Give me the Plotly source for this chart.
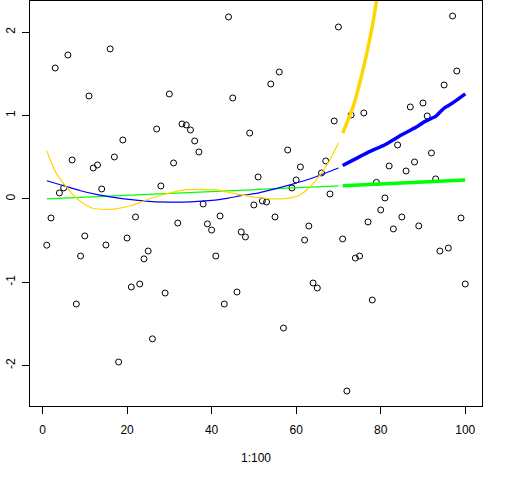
import plotly.graph_objects as go

# Scatter data: x = 1:100
idx = list(range(1, 101))
yvals = [
    -0.556, -0.229, 1.571, 0.071, 0.131, 1.727, 0.467, -1.262, -0.686, -0.445,
    1.235, 0.371, 0.407, 0.119, -0.554, 1.80, 0.503, -1.958, 0.707, -0.47,
    -1.058, -0.217, -1.022, -0.72, -0.626, -1.68, 0.839, 0.155, -1.13, 1.259,
    0.431, -0.29, 0.899, 0.887, 0.827, 0.695, 0.563, -0.061, -0.30, -0.374,
    -0.686, -0.205, -1.262, 2.184, 1.211, -1.118, -0.397, -0.457, 0.79, -0.073,
    0.263, -0.025, -0.037, 1.379, -0.217, 1.523, -1.55, 0.587, 0.131, 0.227,
    0.383, -0.494, -0.326, -1.01, -1.07, 0.311, 0.455, 0.059, 0.935, 2.063,
    -0.481, -2.306, 1.007, -0.71, -0.686, 1.031, -0.277, -1.214, 0.198, -0.133,
    0.011, 0.395, -0.361, 0.647, -0.217, 0.335, 1.103, 0.443, -0.325, 1.151,
    0.995, 0.551, 0.239, -0.626, 1.367, -0.59, 2.195, 1.535, -0.229, -1.022,
]

# Green (linear) fit: thin over 1..70, thick over 71..100
green_thin_x = [1, 70]
green_thin_y = [0.0, 0.155]
green_thick_x = [71, 100]
green_thick_y = [0.158, 0.228]

# Blue fit
blue_thin_x = [1, 5, 9, 13, 18, 21, 26, 30, 35, 40, 44, 47, 51, 55, 59, 63, 67, 70]
blue_thin_y = [0.218, 0.158, 0.098, 0.05, 0.008, -0.01, -0.033, -0.038, -0.035,
               -0.018, 0.01, 0.038, 0.07, 0.12, 0.175, 0.235, 0.31, 0.37]
blue_thick_x = [71, 77, 81, 85, 88, 90.5, 93, 95, 97, 100]
blue_thick_y = [0.40, 0.558, 0.65, 0.77, 0.85, 0.93, 0.99, 1.09, 1.15, 1.26]

# Gold fit
gold_thin_x = [1, 3, 6, 8, 10, 12, 15, 17, 21, 25, 29, 33, 37, 41, 46, 51, 55,
               59, 61, 63, 66, 68, 70]
gold_thin_y = [0.579, 0.33, 0.12, 0.01, -0.065, -0.115, -0.125, -0.122, -0.08,
               -0.005, 0.055, 0.105, 0.115, 0.108, 0.058, 0.015, 0.0, 0.015,
               0.05, 0.13, 0.31, 0.47, 0.67]
gold_thick_x = [71, 73.5, 76, 78, 79, 80]
gold_thick_y = [0.79, 1.11, 1.59, 2.07, 2.37, 2.65]

x_ticks = [0, 20, 40, 60, 80, 100]
y_ticks = [-2, -1, 0, 1, 2]

FONT = "Liberation Sans, Arial, sans-serif"

fig = go.Figure()
fig.add_trace(go.Scatter(x=idx, y=yvals, mode="markers",
                         marker=dict(symbol="circle-open", size=6, color="black",
                                     line=dict(width=1, color="black"))))
for xs, ys, col, w, sm in [
    (green_thin_x, green_thin_y, "#00FF00", 1.2, 0.6),
    (green_thick_x, green_thick_y, "#00FF00", 3.5, 0.6),
    (blue_thin_x, blue_thin_y, "#0000FF", 1.2, 0.6),
    (blue_thick_x, blue_thick_y, "#0000FF", 3.5, 0.3),
    (gold_thin_x, gold_thin_y, "#FFD700", 1.2, 0.6),
    (gold_thick_x, gold_thick_y, "#FFD700", 3.5, 0.6),
]:
    fig.add_trace(go.Scatter(x=xs, y=ys, mode="lines",
                             line=dict(color=col, width=w, shape="spline", smoothing=sm)))

fig.update_layout(
    width=512, height=480,
    margin=dict(l=30, r=30, t=1, b=74),
    paper_bgcolor="white", plot_bgcolor="white",
    showlegend=False,
    font=dict(family=FONT, size=12, color="black"),
)
fig.update_xaxes(range=[-2.96, 103.96], tickvals=x_ticks, ticktext=[str(v) for v in x_ticks],
                 showgrid=False, zeroline=False, showline=True, mirror=True,
                 linecolor="black", linewidth=1, ticks="outside", ticklen=7,
                 tickcolor="black", ticklabelstandoff=6,
                 title=dict(text="1:100", standoff=17, font=dict(size=12)))
fig.update_yaxes(range=[-2.486, 2.375], tickvals=y_ticks, ticktext=[str(v) for v in y_ticks],
                 tickangle=-90,
                 showgrid=False, zeroline=False, showline=True, mirror=True,
                 linecolor="black", linewidth=1, ticks="outside", ticklen=7,
                 tickcolor="black", ticklabelstandoff=2)

fig.write_html("out.html", config={"displayModeBar": False},
               post_script="document.body.style.margin='0px';document.body.style.overflow='hidden';")
